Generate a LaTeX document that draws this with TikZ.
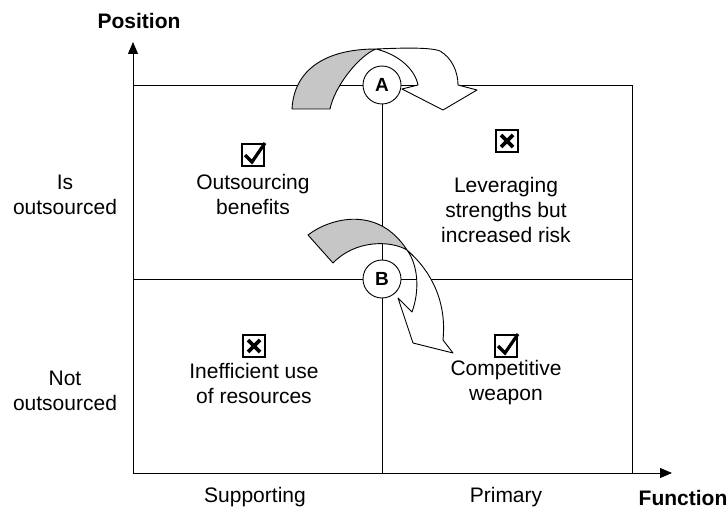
\documentclass[tikz,border=0pt]{standalone}
\usepackage{fontspec}
\setmainfont{Liberation Sans}
\usetikzlibrary{arrows.meta}

% marks inside the small boxes
\newcommand{\tickmark}[1]{%
	\draw[line width=3.2pt,line join=miter] ([shift={(-8,0)}]#1.center)
		-- ([shift={(-1,7)}]#1.center) -- ([shift={(12,-12)}]#1.center);}
\newcommand{\crossmark}[1]{%
	\draw[line width=3.8pt] ([shift={(-6,-6)}]#1.center) -- ([shift={(6,6)}]#1.center)
		([shift={(6,-6)}]#1.center) -- ([shift={(-6,6)}]#1.center);}

\begin{document}
\begin{tikzpicture}[x=1pt,y=-1pt,line width=0.9pt,
		every node/.style={font=\fontsize{21}{25}\selectfont},
		quad text/.style={align=center},
		axis label/.style={font=\fontsize{21}{25}\selectfont\bfseries},
		tick box/.style={draw,line width=2.3pt,minimum size=22pt,inner sep=0pt},
		stage circle/.style={circle,draw,fill=white,minimum size=38pt,inner sep=0pt,
			font=\fontsize{19}{19}\selectfont\bfseries},
		back arrow/.style={draw,fill=gray!45,line join=round},
		front arrow/.style={draw,fill=white,line join=round}]
		
		\useasboundingbox (0,0) rectangle (728,513);
		
		% axes and grid
		\coordinate (O) at (133,473);
		\coordinate (ytip) at (133,42);
		\coordinate (xtip) at (672,473);
		\coordinate (tl) at (133,85);
		\coordinate (tr) at (632,85);
		\coordinate (br) at (632,473);
		\coordinate (mt) at (382,85);
		\coordinate (mb) at (382,473);
		\coordinate (ml) at (133,279);
		\coordinate (mr) at (632,279);
		
		\draw[-{Triangle[length=12pt,width=10pt]}] (O) -- (ytip);
		\draw[-{Triangle[length=12pt,width=10pt]}] (O) -- (xtip);
		\draw (tl) -- (tr) -- (br);
		\draw (mt) -- (mb);
		\draw (ml) -- (mr);
		
		% move A
		\path[back arrow] (292,109) .. controls (294,70) and (325,49) .. (376,49)
			.. controls (360,55) and (335,85) .. (330,109) -- cycle;
		\path[front arrow] (376,49) .. controls (400,48) and (430,47) .. (440,51)
			.. controls (452,58) and (458,72) .. (458,85)
			-- (477,90) -- (443,110) -- (402,89) -- (418,85)
			.. controls (415,70) and (400,55) .. (376,49) -- cycle;
		
		% move B
		\path[back arrow] (308,235) .. controls (330,218) and (378,205) .. (407,250)
			.. controls (390,240) and (355,240) .. (333,263) -- cycle;
		\path[front arrow] (407,250) .. controls (430,270) and (447,300) .. (443,340)
			-- (453,353) -- (413,343) -- (398,298) -- (412,312)
			.. controls (420,290) and (418,265) .. (407,250) -- cycle;
		
		\node[stage circle] (A) at (382,85) {A};
		\node[stage circle] (B) at (382,279) {B};
		
		% quadrants
		\node[quad text] (ob) at (253,194) {Outsourcing\\benefits};
		\node[tick box] (ob box) at (253,155) {};
		\tickmark{ob box}
		\node[quad text] (ls) at (506,210) {Leveraging\\strengths but\\increased risk};
		\node[tick box] (ls box) at (507,141) {};
		\crossmark{ls box}
		\node[quad text] (ie) at (254,383) {Inefficient use\\of resources};
		\node[tick box] (ie box) at (254,346) {};
		\crossmark{ie box}
		\node[quad text] (cw) at (506,383) {Competitive\\weapon};
		\node[tick box] (cw box) at (506,346) {};
		\tickmark{cw box}
		
		% axis labels
		\node[align=center] (is) at (65,194.5) {Is\\outsourced};
		\node[align=center] (not) at (65,390.5) {Not\\outsourced};
		\node (sup) at (255,497) {Supporting};
		\node (pri) at (506,497) {Primary};
		\node[axis label] (fn) at (683,498) {Function};
		\node[axis label] (pos) at (139,21) {Position};
		
\end{tikzpicture}
\end{document}
